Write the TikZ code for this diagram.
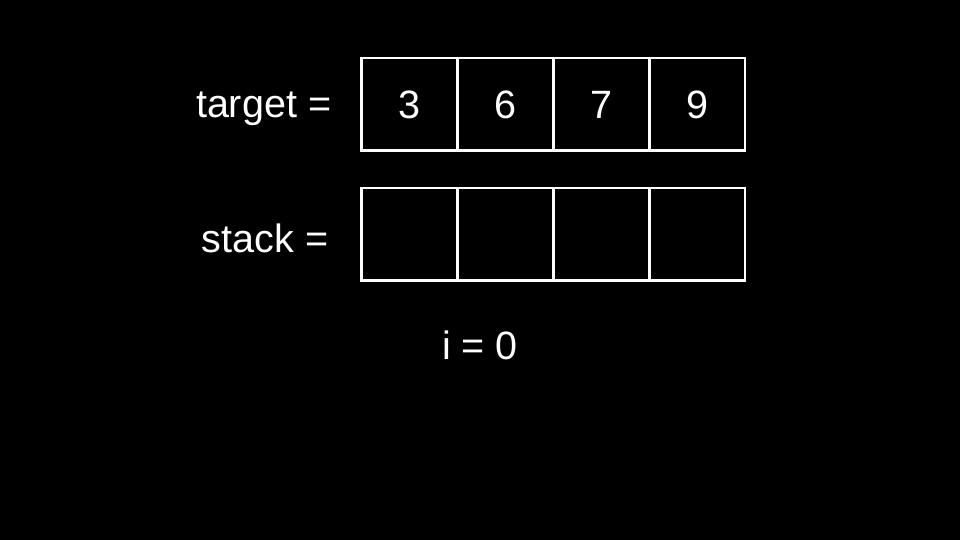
\documentclass[tikz,border=0pt]{standalone}
\usepackage{fontspec}
\setmainfont{Liberation Sans}
\usepackage{xcolor}
\usepackage{tikz}
\usetikzlibrary{positioning}

\begin{document}
\begin{tikzpicture}[x=0.02cm,y=-0.02cm,font=\fontsize{22.5}{26}\selectfont,
    cell/.style={draw=white,line width=1.7pt,minimum width=1.92cm,minimum height=1.86cm,inner sep=0pt,text=white},
    txt/.style={text=white,inner sep=0pt}]
    \fill[black] (0,0) rectangle (960,540);
    \useasboundingbox (0,0) rectangle (960,540);
    % target row
    \foreach \v [count=\k] in {3,6,7,9}
        \node[cell] (t\k) at ({313+96*\k},104.5) {\v};
    % stack row
    \foreach \k in {1,...,4}
        \node[cell] (s\k) at ({313+96*\k},234.5) {};
    \node[txt,left=0.56cm of t1,yshift=-0.08cm] (target) {target =};
    \node[txt,left=0.62cm of s1,yshift=-0.08cm] (stack) {stack =};
    \node[txt] (idx) at (480,345) {i = 0};
\end{tikzpicture}
\end{document}
